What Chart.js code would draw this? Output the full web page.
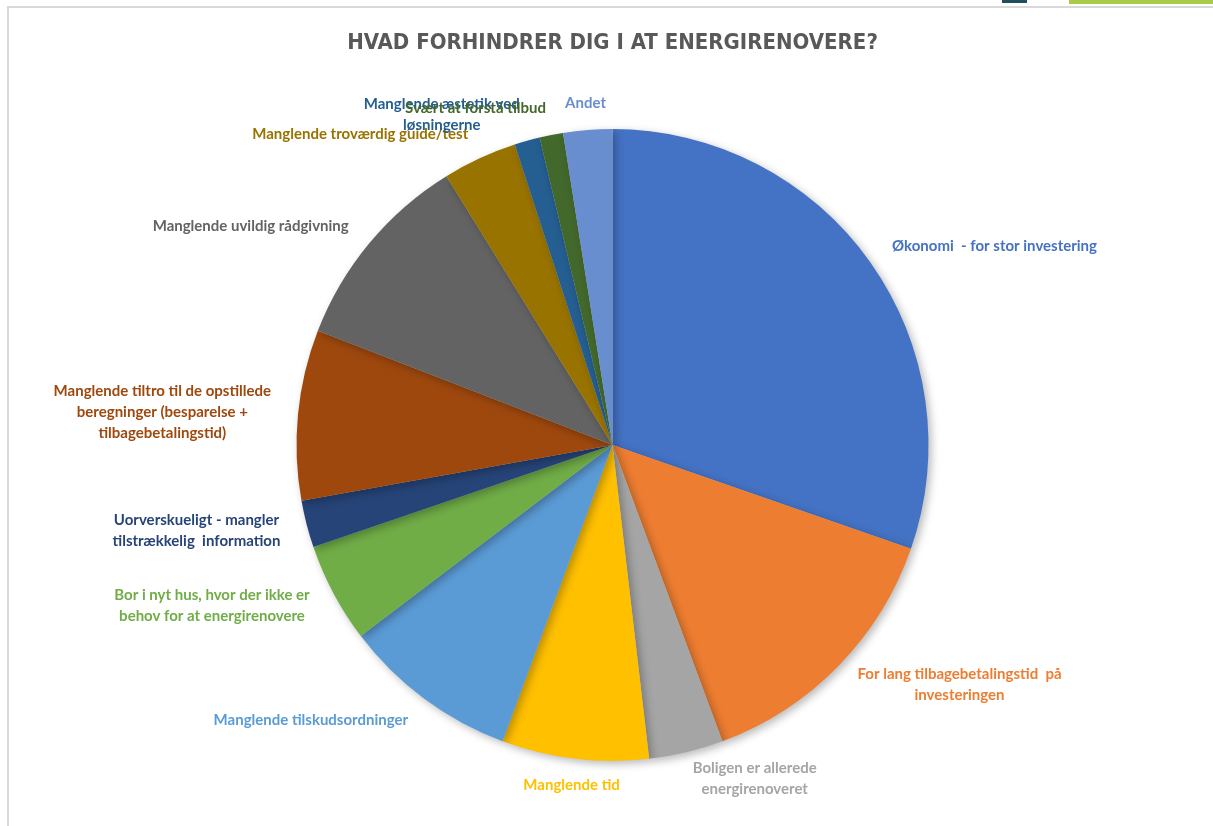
<!DOCTYPE html>
<html>
<head>
<meta charset="utf-8">
<script src="https://cdn.jsdelivr.net/npm/chart.js@4/dist/chart.umd.min.js"></script>
<style>
  html, body { margin: 0; padding: 0; background: #fff; overflow: hidden; }
  #wrap { position: absolute; left: 0; top: 0; width: 1213px; height: 826px; }
  #frame { position: absolute; left: 7px; top: 6px; right: -5px; bottom: -5px;
           border-top: 2px solid #d9d9d9; border-left: 2px solid #d9d9d9; }
  #logo1 { position: absolute; left: 1002px; top: 0; width: 25px; height: 3px; background: #1f4e5f; }
  #logo2 { position: absolute; left: 1069px; top: 0; width: 144px; height: 4px; background: #a8cc4a; }
</style>
</head>
<body>
<div id="wrap">
  <div id="frame"></div>
  <div id="logo1"></div>
  <div id="logo2"></div>
  <canvas id="chart" width="1213" height="826"></canvas>
</div>
<script>
const chartTitle = "HVAD FORHINDRER DIG I AT ENERGIRENOVERE?";

const categories = [
  ["Økonomi  - for stor investering"],
  ["For lang tilbagebetalingstid  på", "investeringen"],
  ["Boligen er allerede", "energirenoveret"],
  ["Manglende tid"],
  ["Manglende tilskudsordninger"],
  ["Bor i nyt hus, hvor der ikke er", "behov for at energirenovere"],
  ["Uorverskueligt - mangler", "tilstrækkelig  information"],
  ["Manglende tiltro til de opstillede", "beregninger (besparelse +", "tilbagebetalingstid)"],
  ["Manglende uvildig rådgivning"],
  ["Manglende troværdig guide/test"],
  ["Manglende æstetik ved", "løsningerne"],
  ["Svært at forstå tilbud"],
  ["Andet"]
];

// share of answers (%)
const shares = [30.3, 14.0, 3.8, 7.5, 9.0, 5.1, 2.4, 8.7, 10.3, 3.8, 1.3, 1.2, 2.5];

const sliceColors = [
  "#4472C4", "#ED7D31", "#A5A5A5", "#FFC000", "#5B9BD5", "#70AD47",
  "#264478", "#9E480E", "#636363", "#997300", "#255E91", "#43682B", "#698ED0"
];

const shadowPlugin = {
  id: "pieShadow",
  beforeDatasetDraw(chart) {
    const ctx = chart.ctx;
    ctx.save();
    ctx.shadowColor = "rgba(0,0,0,0.28)";
    ctx.shadowBlur = 9;
    ctx.shadowOffsetX = 3;
    ctx.shadowOffsetY = 3;
  },
  afterDatasetDraw(chart) {
    chart.ctx.restore();
  }
};

const labelPlugin = {
  id: "outsideLabels",
  afterDraw(chart) {
    const ctx = chart.ctx;
    const meta = chart.getDatasetMeta(0);

    // title, condensed look
    ctx.save();
    ctx.fillStyle = "#595959";
    ctx.font = "bold 22px 'DejaVu Sans Condensed', 'DejaVu Sans'";
    ctx.textAlign = "center";
    ctx.textBaseline = "middle";
    const tw = ctx.measureText(chartTitle).width;
    ctx.translate(chart.width / 2 + 6, 43);
    ctx.scale(Math.min(1, 541 / tw), 1);
    ctx.fillText(chartTitle, 0, 0);
    ctx.restore();

    ctx.save();
    ctx.font = "bold 15px Lato";
    ctx.textBaseline = "middle";
    ctx.textAlign = "center";
    const lineH = 21;
    meta.data.forEach((arc, i) => {
      const p = arc.getProps(["x", "y", "startAngle", "endAngle", "outerRadius"], true);
      const mid = (p.startAngle + p.endAngle) / 2;
      const r = p.outerRadius + 27;
      const ax = p.x + Math.cos(mid) * r;
      const ay = p.y + Math.sin(mid) * r;
      const lines = categories[i];
      const w = Math.max(...lines.map(l => ctx.measureText(l).width));
      const dx = Math.cos(mid);
      let cx;
      if (Math.abs(dx) < 0.13) cx = ax;
      else if (dx > 0) cx = ax + w / 2;
      else cx = ax - w / 2;
      ctx.fillStyle = sliceColors[i];
      const y0 = ay - (lines.length - 1) * lineH / 2;
      lines.forEach((l, k) => ctx.fillText(l, cx, y0 + k * lineH));
    });
    ctx.restore();
  }
};

new Chart(document.getElementById("chart"), {
  type: "pie",
  data: {
    labels: categories.map(c => c.join(" ")),
    datasets: [{
      data: shares,
      backgroundColor: sliceColors,
      borderWidth: 0
    }]
  },
  options: {
    responsive: false,
    animation: false,
    layout: { padding: { top: 129, bottom: 65, left: 12, right: 0 } },
    plugins: {
      legend: { display: false },
      tooltip: { enabled: false },
      title: { display: false }
    }
  },
  plugins: [shadowPlugin, labelPlugin]
});
</script>
</body>
</html>
